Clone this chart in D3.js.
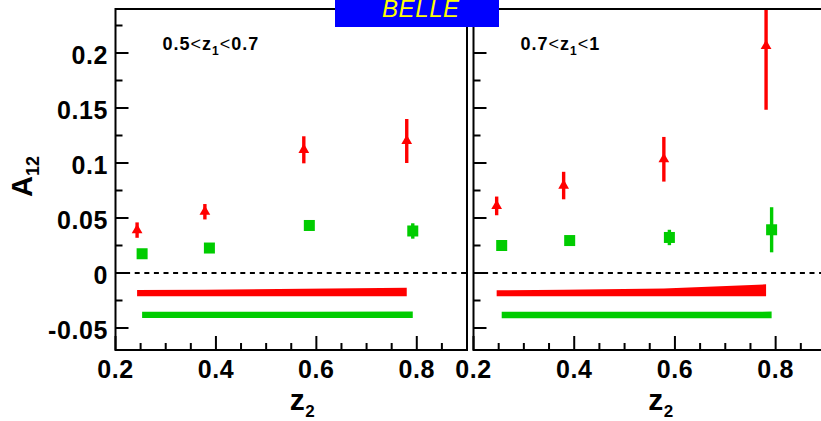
<!DOCTYPE html>
<html>
<head>
<meta charset="utf-8">
<script src="https://cdn.jsdelivr.net/npm/d3@7"></script>
<style>
  body { margin: 0; background: #fff; }
  svg { display: block; }
</style>
</head>
<body>
<svg id="chart" width="821" height="421"></svg>
<script>
// z1 bin limits, one entry per panel
const z1Bins = [["0.5", "0.7"], ["0.7", "1"]];

// Red triangles: z2 position, A12 value and statistical error, per panel
const redZ2  = [[0.243, 0.378, 0.575, 0.780], [0.246, 0.379, 0.578, 0.781]];
const redA12 = [[0.039, 0.0557, 0.112, 0.120], [0.061, 0.0795, 0.1034, 0.2064]];
const redErr = [[0.007, 0.007, 0.0123, 0.020], [0.0085, 0.0125, 0.0203, 0.058]];
// Red systematic-error bands (drawn from a fixed base upward)
const redSysBase = [-0.0212, -0.0212];
const redSys = [[0.0057, 0.0060, 0.0068, 0.0079], [0.0055, 0.0060, 0.0070, 0.0109]];

// Green squares
const greenZ2  = [[0.253, 0.387, 0.586, 0.792], [0.256, 0.391, 0.589, 0.792]];
const greenA12 = [[0.0175, 0.0227, 0.0432, 0.0382], [0.025, 0.0295, 0.0323, 0.0393]];
const greenErr = [[0.004, 0.004, 0.004, 0.007], [0.004, 0.004, 0.007, 0.0205]];
// Green systematic-error bands
const greenSysBase = [-0.041, -0.0411];
const greenSys = [[0.0057, 0.0057, 0.0058, 0.0060], [0.0058, 0.0058, 0.0058, 0.0060]];

// Axis ticks and labels
const yTicks = [-0.05, 0, 0.05, 0.1, 0.15, 0.2];
const yTickLabels = ["-0.05", "0", "0.05", "0.1", "0.15", "0.2"];
const xTicks = [0.2, 0.4, 0.6, 0.8];
const xTickLabels = ["0.2", "0.4", "0.6", "0.8"];

const RED = "#ff0000";
const GREEN = "#00cc00";
const FONT = "'Liberation Sans', Arial, Helvetica, sans-serif";

const svg = d3.select("#chart");
svg.append("rect").attr("width", 821).attr("height", 421).attr("fill", "#fff");

const yTop = 9, yBot = 350;
const y = d3.scaleLinear().domain([-0.07, 0.24]).range([yBot, yTop]).clamp(true);

const panels = [
  { x: d3.scaleLinear().domain([0.2, 0.9]).range([115.5, 467]) },
  { x: d3.scaleLinear().domain([0.2, 0.9]).range([473.5, 826]) }
];

const minorY = d3.range(-0.05, 0.2251, 0.025).map(v => +v.toFixed(3))
  .filter(v => !yTicks.some(t => Math.abs(t - v) < 1e-6));
const minorX = d3.range(0.25, 0.8999, 0.05).map(v => +v.toFixed(3))
  .filter(v => !xTicks.some(t => Math.abs(t - v) < 1e-6));

panels.forEach((p, i) => {
  const x = p.x;
  const [x0, x1] = x.range();
  const g = svg.append("g");

  // systematic bands
  const bandFor = (xs, base, hs) => xs.map((v, k) => ({ x: v, lo: base, hi: base + hs[k] }));
  const area = d3.area().x(d => x(d.x)).y0(d => y(d.lo)).y1(d => y(d.hi));
  g.append("path").datum(bandFor(redZ2[i], redSysBase[i], redSys[i]))
    .attr("d", area).attr("fill", RED);
  g.append("path").datum(bandFor(greenZ2[i], greenSysBase[i], greenSys[i]))
    .attr("d", area).attr("fill", GREEN);

  // zero line
  g.append("line")
    .attr("x1", x0).attr("x2", Math.min(x1, 821)).attr("y1", y(0)).attr("y2", y(0))
    .attr("stroke", "#000").attr("stroke-width", 2.2).attr("stroke-dasharray", "5,4.6");

  // green points with error bars
  const gd = greenZ2[i].map((v, k) => ({ x: v, y: greenA12[i][k], e: greenErr[i][k] }));
  g.selectAll(".gerr").data(gd).join("line")
    .attr("x1", d => x(d.x)).attr("x2", d => x(d.x))
    .attr("y1", d => y(d.y - d.e)).attr("y2", d => y(d.y + d.e))
    .attr("stroke", GREEN).attr("stroke-width", 3.4);
  g.selectAll(".gpt").data(gd).join("rect")
    .attr("x", d => x(d.x) - 5.5).attr("y", d => y(d.y) - 5.5)
    .attr("width", 11).attr("height", 11).attr("fill", GREEN);

  // red points with error bars
  const rd = redZ2[i].map((v, k) => ({ x: v, y: redA12[i][k], e: redErr[i][k] }));
  g.selectAll(".rerr").data(rd).join("line")
    .attr("x1", d => x(d.x)).attr("x2", d => x(d.x))
    .attr("y1", d => y(d.y - d.e)).attr("y2", d => y(d.y + d.e))
    .attr("stroke", RED).attr("stroke-width", 3.4);
  const tri = d3.symbol().type(d3.symbolTriangle).size(50);
  g.selectAll(".rpt").data(rd).join("path")
    .attr("d", tri)
    .attr("transform", d => `translate(${x(d.x)},${y(d.y)})`)
    .attr("fill", RED);

  // frame
  g.append("rect")
    .attr("x", x0).attr("y", yTop).attr("width", x1 - x0).attr("height", yBot - yTop)
    .attr("fill", "none").attr("stroke", "#000").attr("stroke-width", 2);

  // y ticks (inward)
  g.selectAll(".ytM").data(yTicks).join("line")
    .attr("x1", x0).attr("x2", x0 + 13).attr("y1", d => y(d)).attr("y2", d => y(d))
    .attr("stroke", "#000").attr("stroke-width", 2);
  g.selectAll(".ytm").data(minorY).join("line")
    .attr("x1", x0).attr("x2", x0 + 7).attr("y1", d => y(d)).attr("y2", d => y(d))
    .attr("stroke", "#000").attr("stroke-width", 2);

  // x ticks (inward)
  g.selectAll(".xtM").data(xTicks).join("line")
    .attr("x1", d => x(d)).attr("x2", d => x(d)).attr("y1", yBot).attr("y2", yBot - 14)
    .attr("stroke", "#000").attr("stroke-width", 2);
  g.selectAll(".xtm").data(minorX).join("line")
    .attr("x1", d => x(d)).attr("x2", d => x(d)).attr("y1", yBot).attr("y2", yBot - 7)
    .attr("stroke", "#000").attr("stroke-width", 2);

  // x tick labels
  g.selectAll(".xl").data(xTicks).join("text")
    .attr("x", d => x(d)).attr("y", 378)
    .attr("text-anchor", "middle")
    .attr("font-family", FONT).attr("font-weight", "bold").attr("font-size", 25)
    .attr("letter-spacing", 0.6)
    .text((d, k) => xTickLabels[k]);

  // x axis title z2
  const xt = g.append("text")
    .attr("x", x(0.547)).attr("y", 410)
    .attr("font-family", FONT).attr("font-weight", "bold").attr("font-size", 30);
  xt.append("tspan").text("z");
  xt.append("tspan").attr("font-size", 17).attr("dx", 0.5).attr("dy", 7).text("2");

  // panel label
  const pl = g.append("text")
    .attr("x", x0 + 47).attr("y", 50)
    .attr("font-family", FONT).attr("font-weight", "bold").attr("font-size", 18)
    .attr("letter-spacing", 1);
  pl.append("tspan").text(z1Bins[i][0]);
  pl.append("tspan").attr("font-weight", "normal").text("<");
  pl.append("tspan").text("z");
  pl.append("tspan").attr("font-size", 12).attr("dy", 5).text("1");
  pl.append("tspan").attr("font-weight", "normal").attr("dy", -5).text("<");
  pl.append("tspan").text(z1Bins[i][1]);
});

// y tick labels on the left panel
svg.selectAll(".yl").data(yTicks).join("text")
  .attr("x", 108).attr("y", d => y(d) + 11)
  .attr("text-anchor", "end")
  .attr("font-family", FONT).attr("font-weight", "bold").attr("font-size", 25)
  .attr("letter-spacing", 0.6)
  .text((d, k) => yTickLabels[k]);

// y axis title A12
const yt = svg.append("text")
  .attr("transform", "translate(32,197) rotate(-90)")
  .attr("font-family", FONT).attr("font-weight", "bold").attr("font-size", 29);
yt.append("tspan").text("A");
yt.append("tspan").attr("font-size", 18).attr("dy", 7).text("12");

// experiment badge
svg.append("rect").attr("x", 335).attr("y", 0).attr("width", 164).attr("height", 27)
  .attr("fill", "#0000ff");
svg.append("text").attr("x", 382).attr("y", 17)
  .attr("font-family", FONT).attr("font-style", "italic").attr("font-size", 24)
  .attr("letter-spacing", 0.6)
  .attr("fill", "#ffff00").text("BELLE");
</script>
</body>
</html>
